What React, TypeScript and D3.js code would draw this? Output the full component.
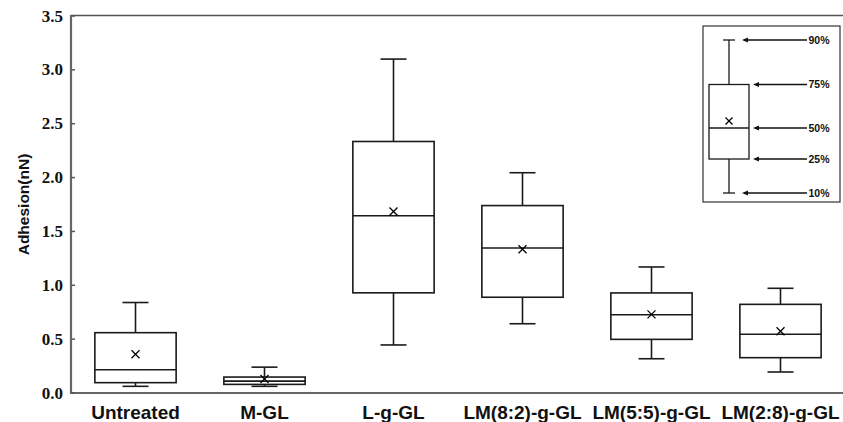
import React from "react";
import * as d3 from "d3";

const categories = ["Untreated", "M-GL", "L-g-GL", "LM(8:2)-g-GL", "LM(5:5)-g-GL", "LM(2:8)-g-GL"];
const p10 = [0.062, 0.062, 0.446, 0.643, 0.318, 0.195];
const p25 = [0.096, 0.08, 0.93, 0.889, 0.498, 0.328];
const p50 = [0.216, 0.11, 1.645, 1.346, 0.727, 0.545];
const p75 = [0.56, 0.148, 2.335, 1.74, 0.929, 0.823];
const p90 = [0.84, 0.24, 3.1, 2.045, 1.17, 0.972];
const means = [0.36, 0.13, 1.685, 1.335, 0.73, 0.573];
const yTicks = [0, 0.5, 1.0, 1.5, 2.0, 2.5, 3.0, 3.5];
const legendLabels = ["90%", "75%", "50%", "25%", "10%"];

const W = 843, H = 422;
const left = 71, right = 845, top = 16, bottom = 393;

export default function App() {
  const x = d3.scaleBand<string>().domain(categories).range([left, right]).paddingInner(0.37).paddingOuter(0.185);
  const y = d3.scaleLinear().domain([0, 3.5]).range([bottom, top]);
  const bw = x.bandwidth();
  const capW = 26;
  const sans = "'Liberation Sans', Arial, sans-serif";
  const serif = "'Liberation Serif', 'Times New Roman', serif";

  const insetLeft = 703, insetTop = 26, insetW = 137, insetH = 176;
  const icx = 729, ibw = 40;
  const legY = [40, 84.5, 128, 159, 193];
  const arrowStart = [742, 753, 753, 753, 742];

  const xMark = (cx: number, cy: number, s: number, key: string) => (
    <g key={key} stroke="#000" strokeWidth={1.3}>
      <line x1={cx - s} y1={cy - s} x2={cx + s} y2={cy + s} />
      <line x1={cx - s} y1={cy + s} x2={cx + s} y2={cy - s} />
    </g>
  );

  return (
    <svg width={W} height={H} style={{ position: "absolute", left: 0, top: 0, background: "#fff" }}>
      <rect x={0} y={0} width={W} height={H} fill="#fff" />
      <line x1={left} y1={top - 0.5} x2={W} y2={top - 0.5} stroke="#555" strokeWidth={1.5} />
      <line x1={left} y1={top - 1} x2={left} y2={bottom + 1} stroke="#666" strokeWidth={2.2} />
      <line x1={left} y1={bottom} x2={W} y2={bottom} stroke="#666" strokeWidth={2} />
      {yTicks.map((t) => (
        <g key={t}>
          <line x1={left} x2={left + 4} y1={y(t)} y2={y(t)} stroke="#555" strokeWidth={1.5} />
          <text x={63} y={y(t) + 5.5} textAnchor="end" fontFamily={serif} fontWeight="bold" fontSize={17} fill="#111">
            {t.toFixed(1)}
          </text>
        </g>
      ))}
      <text
        transform={`translate(29,${(top + bottom) / 2}) rotate(-90)`}
        textAnchor="middle"
        fontFamily={sans}
        fontWeight="bold"
        fontSize={15.5}
        fill="#111"
      >
        Adhesion(nN)
      </text>
      {categories.map((c, i) => {
        const cx = (x(c) as number) + bw / 2;
        return (
          <g key={c}>
            <text x={cx} y={418.5} textAnchor="middle" fontFamily={sans} fontWeight="bold" fontSize={19} fill="#111">
              {c}
            </text>
            <g stroke="#1a1a1a" strokeWidth={1.6} fill="none">
              <line x1={cx} x2={cx} y1={y(p90[i])} y2={y(p75[i])} />
              <line x1={cx} x2={cx} y1={y(p25[i])} y2={y(p10[i])} />
              <line x1={cx - capW / 2} x2={cx + capW / 2} y1={y(p90[i])} y2={y(p90[i])} />
              <line x1={cx - capW / 2} x2={cx + capW / 2} y1={y(p10[i])} y2={y(p10[i])} />
              <rect x={cx - bw / 2} y={y(p75[i])} width={bw} height={y(p25[i]) - y(p75[i])} />
              <line x1={cx - bw / 2} x2={cx + bw / 2} y1={y(p50[i])} y2={y(p50[i])} />
            </g>
            {xMark(cx, y(means[i]), 4, "m" + c)}
          </g>
        );
      })}
      <rect x={insetLeft} y={insetTop} width={insetW} height={insetH} fill="#fff" stroke="#333" strokeWidth={1.2} />
      <g stroke="#1a1a1a" strokeWidth={1.3} fill="none">
        <line x1={icx} x2={icx} y1={legY[0]} y2={legY[1]} />
        <line x1={icx} x2={icx} y1={legY[3]} y2={legY[4]} />
        <line x1={icx - 6} x2={icx + 6} y1={legY[0]} y2={legY[0]} />
        <line x1={icx - 6} x2={icx + 6} y1={legY[4]} y2={legY[4]} />
        <rect x={icx - ibw / 2} y={legY[1]} width={ibw} height={legY[3] - legY[1]} />
        <line x1={icx - ibw / 2} x2={icx + ibw / 2} y1={legY[2]} y2={legY[2]} />
      </g>
      {xMark(icx, 121, 3.5, "legx")}
      {legendLabels.map((l, i) => (
        <g key={l}>
          <line x1={arrowStart[i] + 4} x2={807} y1={legY[i]} y2={legY[i]} stroke="#111" strokeWidth={1.3} />
          <path
            d={`M${arrowStart[i]},${legY[i]} L${arrowStart[i] + 6},${legY[i] - 2.5} L${arrowStart[i] + 6},${legY[i] + 2.5} Z`}
            fill="#111"
          />
          <text x={808.5} y={legY[i] + 3.8} fontFamily={sans} fontWeight="bold" fontSize={10.5} fill="#111">
            {l}
          </text>
        </g>
      ))}
    </svg>
  );
}
